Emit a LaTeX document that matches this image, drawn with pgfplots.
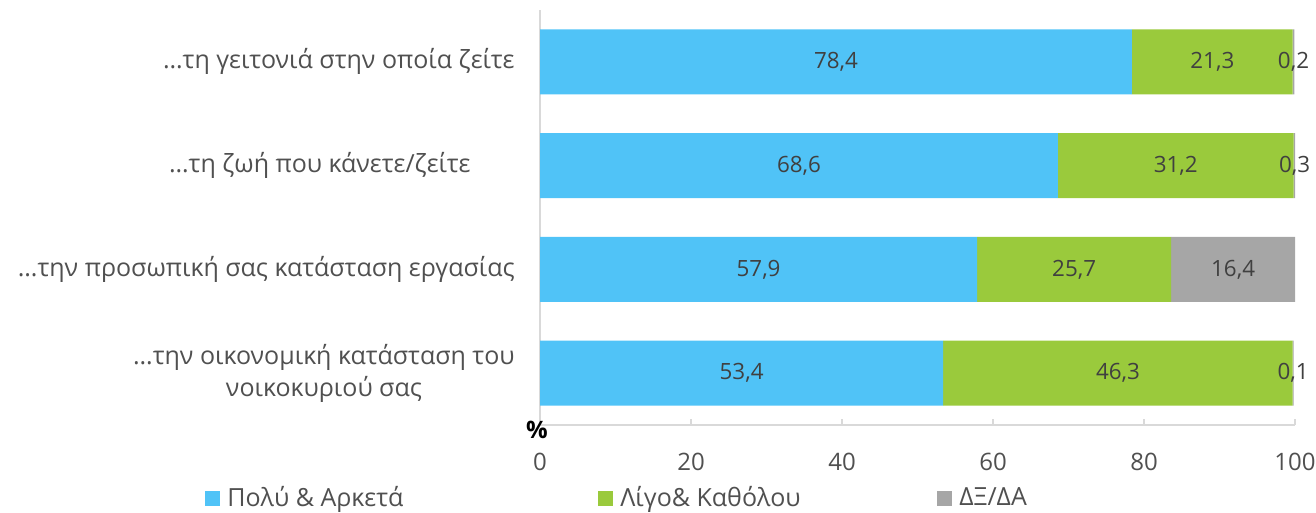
\documentclass[border=0pt]{standalone}
\usepackage{pgfplots}
\pgfplotsset{compat=1.18}
\usepackage{fontspec}
\setmainfont{Open Sans}
\definecolor{cblue}{RGB}{80,195,247}
\definecolor{cgreen}{RGB}{154,202,60}
\definecolor{cgray}{RGB}{166,166,166}
\definecolor{txt}{RGB}{80,80,80}
\definecolor{vtxt}{RGB}{64,64,64}
\definecolor{axl}{RGB}{217,217,217}
\newcommand{\fs}{\fontsize{12.5}{16}\selectfont}
\newcommand{\ft}{\fontsize{12}{16}\selectfont}
\newcommand{\fv}{\fontsize{11.2}{16}\selectfont}
\pgfplotstableread{
y a b c
0 78.4 21.3 0.2
1 68.6 31.2 0.3
2 57.9 25.7 16.4
3 53.4 46.3 0.1
}\bars
\pgfplotstableread{
x y lab
39.2 0 78,4
89.05 0 21,3
99.8 0 0,2
34.3 1 68,6
84.2 1 31,2
99.95 1 0,3
28.95 2 57,9
70.75 2 25,7
91.8 2 16,4
26.7 3 53,4
76.55 3 46,3
99.75 3 0,1
}\labs
\begin{document}
\begin{tikzpicture}
\path[use as bounding box] (0,0) rectangle (658pt,256.5pt);
\begin{axis}[
  at={(270pt,44pt)}, anchor=south west,
  scale only axis, width=377.5pt, height=207.5pt,
  xbar stacked, bar width=32.5pt,
  xmin=0, xmax=100, ymin=-0.5, ymax=3.5, y dir=reverse,
  axis x line*=bottom, axis y line*=left,
  axis line style={draw=axl, line width=1pt},
  xtick={0,20,40,60,80,100}, ytick={0,1,2,3},
  /pgf/number format/assume math mode=true,
  yticklabels={{\dots τη γειτονιά στην οποία ζείτε},{\dots τη ζωή που κάνετε/ζείτε\hspace*{22pt}},{\dots την προσωπική σας κατάσταση εργασίας},{\dots την οικονομική κατάσταση του\\νοικοκυριού σας}},
  tick align=inside, major tick length=3pt,
  xtick style={draw=axl, line width=0.8pt},
  ytick style={draw=none},
  xticklabel style={font=\ft, text=txt, anchor=center, yshift=-18.5pt},
  yticklabel style={font=\fs, text=txt, align=center, anchor=east, inner sep=0pt, xshift=-12.5pt},
  legend columns=3,
  legend style={draw=none, fill=none, at={(-0.4437,-0.176)}, anchor=west, inner sep=0pt,
    nodes={inner sep=0pt, font=\fs, text=txt},
    /tikz/every even column/.append style={column sep=0pt}},
  legend image code/.code={\fill[#1] (0pt,-3.75pt) rectangle (7.5pt,3.75pt);},
]
\addplot[fill=cblue, draw=none] table[x=a, y=y] {\bars};
\addlegendentry{\hspace{3.5pt}\makebox[185.5pt][l]{Πολύ \& Αρκετά}}
\addplot[fill=cgreen, draw=none] table[x=b, y=y] {\bars};
\addlegendentry{\hspace{3.5pt}\makebox[158.5pt][l]{Λίγο\& Καθόλου}}
\addplot[fill=cgray, draw=none] table[x=c, y=y] {\bars};
\addlegendentry{\hspace{3.5pt}ΔΞ/ΔΑ}
\end{axis}
\begin{axis}[
  at={(270pt,44pt)}, anchor=south west,
  scale only axis, width=377.5pt, height=207.5pt,
  xmin=0, xmax=100, ymin=-0.5, ymax=3.5, y dir=reverse,
  hide axis, clip=false,
]
\addplot[draw=none, nodes near coords, point meta=explicit symbolic,
  every node near coord/.append style={anchor=center, font=\fv, text=vtxt}]
  table[x=x, y=y, meta=lab] {\labs};
\node[font=\bfseries\ft, text=black, anchor=center, xshift=-1.5pt, yshift=-2.5pt] at (axis description cs:0,0) {\%};
\end{axis}
\end{tikzpicture}
\end{document}
